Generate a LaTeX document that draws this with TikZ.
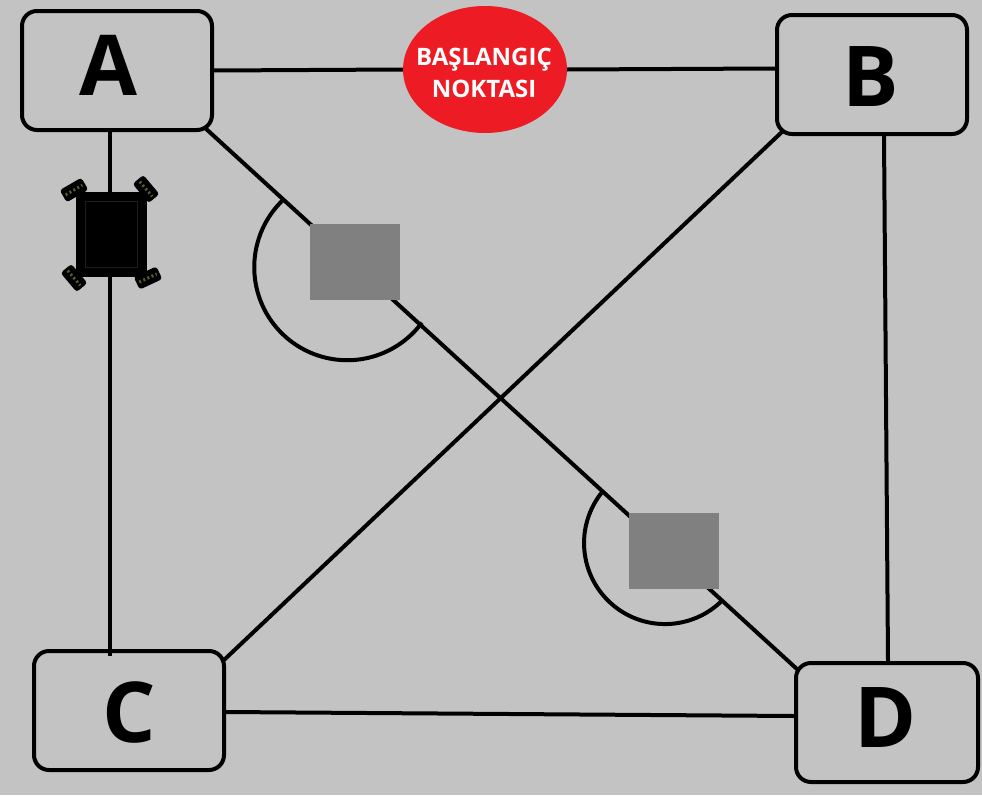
\documentclass[tikz,border=0pt]{standalone}
\usepackage{fontspec}
\setmainfont{Open Sans}
\usetikzlibrary{calc,shapes.geometric}
\definecolor{bgc}{HTML}{C3C3C3}
\definecolor{obst}{HTML}{808080}
\definecolor{startred}{HTML}{ED1C24}
\definecolor{wheelc}{HTML}{5A5A2A}
\tikzset{
  x=1pt,y=-1pt,
  corner/.style={draw=black,line width=4pt,rounded corners=15pt,fill=bgc,inner sep=0pt},
  edge/.style={draw=black,line width=4pt},
  guard/.style={draw=black,line width=4pt},
  obstacle/.style={fill=obst,draw=none,inner sep=0pt,minimum width=90pt,minimum height=76pt},
  startnode/.style={ellipse,fill=startred,draw=none,inner sep=0pt,minimum width=164pt,minimum height=127pt},
  wheel/.style={fill=black,draw=none,rounded corners=3pt,minimum width=25pt,minimum height=14pt,inner sep=0pt},
  tread/.style={draw=wheelc,line width=3pt,dash pattern=on 2pt off 2.5pt},
  robotbody/.style={fill=black,draw=none,inner sep=0pt,minimum width=71pt,minimum height=85pt},
  biglabel/.style={font=\fontsize{84}{84}\selectfont\bfseries,text=black},
  startlabel/.style={text=white,align=center,font=\fontsize{24}{32}\selectfont\bfseries},
}
\begin{document}
\begin{tikzpicture}
\fill[bgc] (0,0) rectangle (982,795);
\useasboundingbox (0,0) rectangle (982,795);
% connectors lying behind the boxes
\node[corner,minimum width=190pt,minimum height=119pt] (A) at (117,70.5) {};
\node[corner,minimum width=190pt,minimum height=119pt] (B) at (872,74.5) {};
\node[corner,minimum width=190pt,minimum height=119pt] (C) at (129,710.5) {};
\node[corner,minimum width=182pt,minimum height=119pt] (D) at (887,722.5) {};
\node[startnode] (S) at (485,69.5) {};
\draw[edge] (A.east) -- (S.west);
\draw[edge] (S.east) -- ($(B.west)+(0,-6)$);
\draw[edge] ($(A.south)+(-7,0)$) -- ($(C.north)+(-19,7)$);
\draw[edge] ($(B.south)+(12,0)$) -- ($(D.north)+(1,0)$);
\draw[edge] ($(C.east)+(0,1.5)$) -- ($(D.west)+(0,-6.5)$);
\draw[edge] ($(B.south west)+(9,-6)$) -- ($(C.north east)+(-2,11)$);
\draw[edge] ($(A.south east)+(-10,-5)$) -- ($(D.north west)+(4,9)$);
% guard arcs
\coordinate (g1) at (283,200);
\draw[guard] (g1) arc[start angle=133.7,end angle=323.4,radius=93pt];
\coordinate (g2) at (603,491);
\draw[guard] (g2) arc[start angle=140,end angle=314.5,radius=81pt];
% obstacles
\node[obstacle] (O1) at (355,262) {};
\node[obstacle] (O2) at (674,551) {};
% robot
\node[robotbody] (R) at (111.5,234.5) {};
\draw[black!85!bgc,line width=0.5pt] (85,201) rectangle (137,267);
\foreach \n/\px/\py/\ang in {w1/74/190/30,w2/146/189/-50,w3/74/278/-50,w4/148/278/25}{
  \node[wheel,rotate=\ang] (\n) at (\px,\py) {};
  \draw[tread] ($(\n.west)!0.12!(\n.east)$) -- ($(\n.west)!0.88!(\n.east)$);
}
% labels
\node[biglabel] (la) at (108,65) {A};
\node[biglabel] (lb) at (871,77) {B};
\node[biglabel] (lc) at (129,712) {C};
\node[biglabel] (ld) at (886,718) {D};
\node[startlabel] (lS) at (484,73) {BAŞLANGIÇ\\NOKTASI};
\end{tikzpicture}
\end{document}
